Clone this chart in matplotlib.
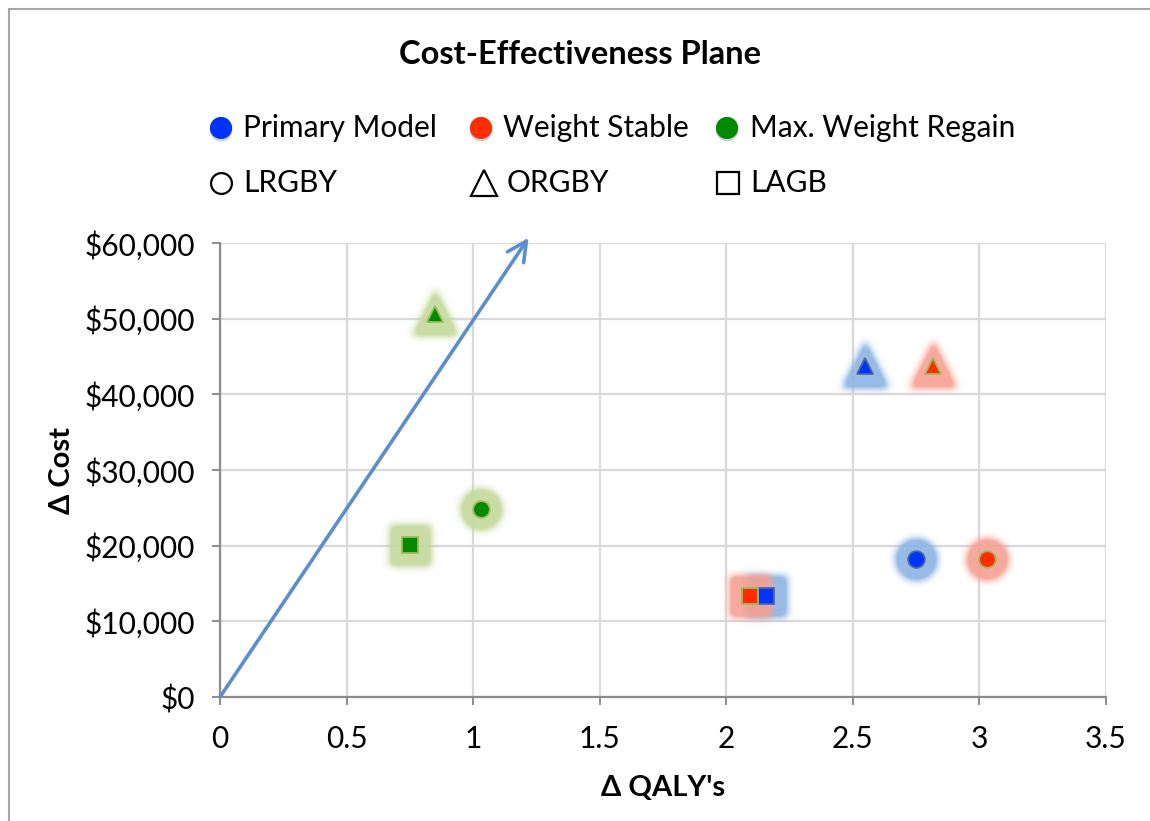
import numpy as np
import matplotlib
matplotlib.use("Agg")
import matplotlib.pyplot as plt
from matplotlib.lines import Line2D
from matplotlib.patches import Rectangle
import matplotlib.patheffects as pe

plt.rcParams['font.family'] = ['Lato', 'DejaVu Sans']

# ---- data ---------------------------------------------------------------
series_names = ["Primary Model", "Weight Stable", "Max. Weight Regain"]
procedures = ["LRGBY", "ORGBY", "LAGB"]

# incremental QALYs per procedure (LRGBY, ORGBY, LAGB)
qaly_primary = [2.75, 2.55, 2.16]
qaly_stable = [3.03, 2.82, 2.095]
qaly_regain = [1.03, 0.85, 0.75]

# incremental cost per procedure (LRGBY, ORGBY, LAGB)
cost_primary = [18200, 43800, 13300]
cost_stable = [18200, 43800, 13300]
cost_regain = [24900, 50600, 20100]

x_ticks = [0, 0.5, 1, 1.5, 2, 2.5, 3, 3.5]
x_tick_labels = ["0", "0.5", "1", "1.5", "2", "2.5", "3", "3.5"]
y_ticks = [0, 10000, 20000, 30000, 40000, 50000, 60000]

# willingness-to-pay arrow end point
arrow_end = (1.22, 60700)

# ---- styling ------------------------------------------------------------
face_colors = ["#0033ff", "#ff2d00", "#008a00"]
edge_colors = ["#4a6a9a", "#9bbb59", "#9bbb59"]
glow_colors = ["#8cb4e4", "#f7a193", "#c5d99c"]
marker_shapes = ["o", "^", "s"]

TXT = 21.5

W, H = 1150, 821
fig = plt.figure(figsize=(W / 100, H / 100), dpi=100)


def fx(px):
    return px / W


def fy(py):
    return 1 - py / H


# outer chart frame
fig.add_artist(Rectangle((fx(9), -0.05), 1.2, fy(9) + 0.05,
                         transform=fig.transFigure, fill=False,
                         edgecolor="#a6a6a6", lw=1.5))

ax = fig.add_axes([fx(220), fy(697), (1105.5 - 220) / W, (697 - 243) / H])
ax.set_xlim(0, 3.5)
ax.set_ylim(0, 60000)
ax.set_xticks(x_ticks)
ax.set_xticklabels(x_tick_labels)
ax.set_yticks(y_ticks)
ax.set_yticklabels(["${:,.0f}".format(v) for v in y_ticks])
ax.grid(True, color="#d9d9d9", lw=1.6, zorder=0)
ax.set_axisbelow(True)
for s in ["top", "right"]:
    ax.spines[s].set_visible(False)
for s in ["left", "bottom"]:
    ax.spines[s].set_color("#8c8c8c")
    ax.spines[s].set_linewidth(1.6)
ax.tick_params(axis="both", direction="out", length=6, width=1.4,
               color="#8c8c8c", labelsize=TXT)
ax.tick_params(axis="y", pad=12)
ax.tick_params(axis="x", pad=14)


# soft glow behind the markers (gaussian blur through an agg filter)
class GlowFilter:
    def __init__(self, sigma, gain):
        self.sigma = sigma
        self.gain = gain

    def __call__(self, im, dpi):
        sigma = self.sigma
        pad = int(4 * sigma)
        src = np.pad(im, [(pad, pad), (pad, pad), (0, 0)], "constant")
        k = np.arange(-pad, pad + 1)
        kern = np.exp(-0.5 * (k / sigma) ** 2)
        kern /= kern.sum()
        out = np.apply_along_axis(lambda r: np.convolve(r, kern, mode="same"), 0, src)
        out = np.apply_along_axis(lambda r: np.convolve(r, kern, mode="same"), 1, out)
        # colour stays constant, only alpha is blurred
        rgb = im[..., :3].reshape(-1, 3)
        a = im[..., 3].reshape(-1)
        if a.sum() > 0:
            col = (rgb * a[:, None]).sum(0) / a.sum()
        else:
            col = np.zeros(3)
        res = np.zeros_like(out)
        res[..., :3] = col
        res[..., 3] = np.clip(out[..., 3] * self.gain, 0, 0.9)
        return res, -pad, -pad


all_x = [qaly_primary, qaly_stable, qaly_regain]
all_y = [cost_primary, cost_stable, cost_regain]

# glows first, then the markers on top
for si in range(3):
    for pi in range(3):
        m = marker_shapes[pi]
        base = 12 if m != "^" else 13
        glow, = ax.plot([all_x[si][pi]], [all_y[si][pi]], marker=m,
                        ms=base + 13, ls="none", color=glow_colors[si],
                        mec=glow_colors[si], mew=5, zorder=3 + si)
        glow.set_agg_filter(GlowFilter(3.6, 1.35))
        glow.set_rasterized(True)

for si in range(3):
    for pi in range(3):
        m = marker_shapes[pi]
        ax.plot([all_x[si][pi]], [all_y[si][pi]], marker=m,
                ms=12, ls="none", color=face_colors[si],
                mec=edge_colors[si], mew=1.3, zorder=10 + si)

ax.annotate("", xy=arrow_end, xytext=(0, 0), xycoords="data",
            annotation_clip=False,
            arrowprops=dict(arrowstyle="->,head_length=0.7,head_width=0.35",
                            color="#5b8fcc", lw=2.6, shrinkA=0, shrinkB=0,
                            mutation_scale=20),
            zorder=20)

# titles and axis labels
fig.text(fx(580), fy(55), "Cost-Effectiveness Plane", ha="center",
         va="center", fontsize=23.5, fontweight="bold")
fig.text(fx(663), fy(788), "Δ QALY's", ha="center", va="center",
         fontsize=21, fontweight="bold")
fig.text(fx(62), fy(470), "Δ Cost", ha="center", va="center",
         fontsize=21, fontweight="bold", rotation=90)

# legend: colours (scenarios) and shapes (procedures)
row1_marker_x = [221, 481, 727]
row1_text_x = [243, 503, 750]
for i, name in enumerate(series_names):
    h = Line2D([fx(row1_marker_x[i])], [fy(128)], marker="o", ms=15,
               color=face_colors[i], mec=face_colors[i], ls="none",
               transform=fig.transFigure)
    h.set_path_effects([pe.SimpleLineShadow(offset=(0, -1.5), shadow_color="#4a5a7a",
                                            alpha=0.35), pe.Normal()])
    fig.add_artist(h)
    fig.text(fx(row1_text_x[i]), fy(128), name, ha="left", va="center",
             fontsize=TXT)

row2_marker_x = [221, 484, 728]
row2_text_x = [243, 507, 750]
for i, name in enumerate(procedures):
    m = marker_shapes[i]
    ms = {"o": 15, "^": 19, "s": 16}[m]
    h = Line2D([fx(row2_marker_x[i])], [fy(183)], marker=m, ms=ms,
               color="white", mec="black", mew=1.6, ls="none",
               transform=fig.transFigure)
    fig.add_artist(h)
    fig.text(fx(row2_text_x[i]), fy(183), name, ha="left", va="center",
             fontsize=TXT)

fig.savefig("out.png", dpi=100, facecolor="white")
